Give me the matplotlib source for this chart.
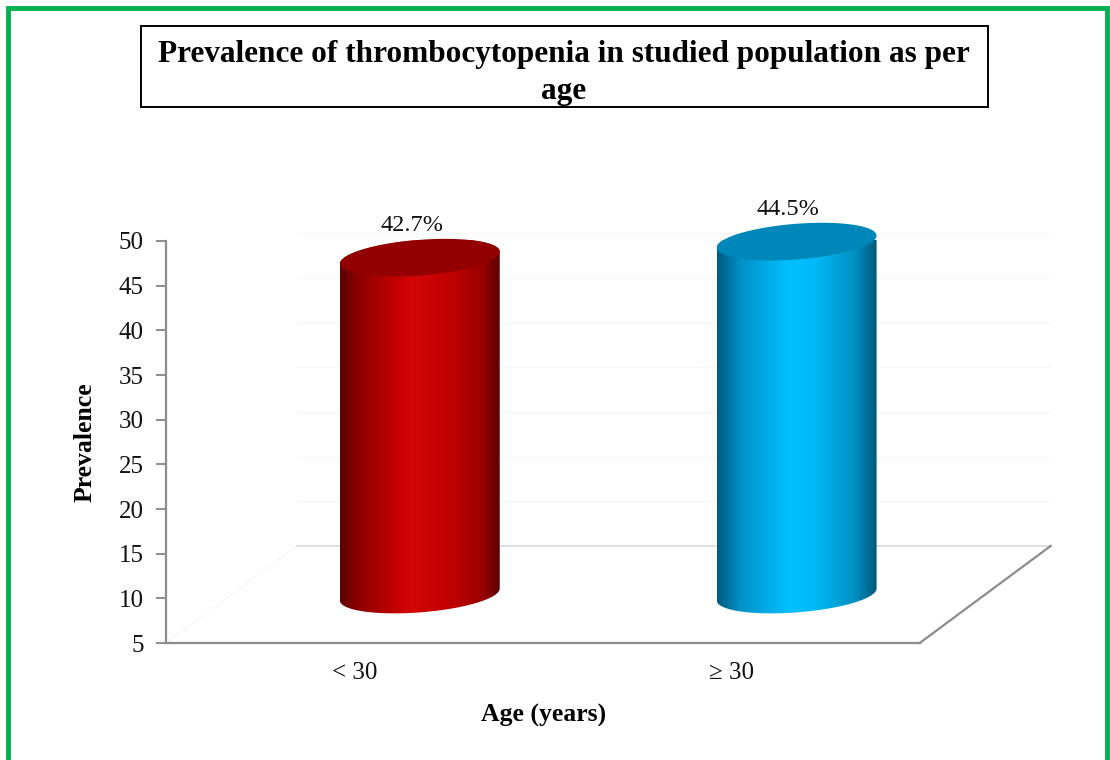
import matplotlib
matplotlib.use('Agg')
import matplotlib.pyplot as plt
import numpy as np
from matplotlib.patches import Polygon, Rectangle
from matplotlib.colors import LinearSegmentedColormap

categories = ['< 30', '\u2265 30']
prevalence = [42.7, 44.5]
value_labels = ['42.7%', '44.5%']
y_ticks = [5, 10, 15, 20, 25, 30, 35, 40, 45, 50]

plt.rcParams['font.family'] = ['Liberation Serif', 'DejaVu Serif']

red_cmap = LinearSegmentedColormap.from_list('red_cyl', [
    (0.0, '#5c0000'), (0.12, '#8e0000'), (0.35, '#c20000'), (0.45, '#d30505'),
    (0.7, '#bf0000'), (0.9, '#980000'), (1.0, '#5a0000')])
blue_cmap = LinearSegmentedColormap.from_list('blue_cyl', [
    (0.0, '#005a80'), (0.15, '#0092c8'), (0.45, '#00bfff'), (0.62, '#00b9f6'),
    (0.86, '#0090c2'), (1.0, '#00587a')])
cyl_cmaps = [red_cmap, blue_cmap]
top_colors = ['#930000', '#0087b9']
text_color = '#111111'

fig = plt.figure(figsize=(11.1, 7.6), dpi=100)
ax = fig.add_axes([0.1495, 0.1539, 0.679, 0.529])
x = np.arange(len(categories)) + 0.5
xmax = len(categories)
ymin, ymax = 5, 50

# 3d depth offsets in data units
dx, dy = 0.3475, 10.86
rx, ry, sk = 0.212, 2.0, 0.67

# floor and back wall
for v in y_ticks[1:8]:
    ax.plot([dx, xmax + dx], [v + dy, v + dy], color='#f6f6f6', lw=1, clip_on=False, zorder=0)
ax.plot([dx, xmax + dx], [ymin + dy, ymin + dy], color='#d9d9d9', lw=1.2, clip_on=False, zorder=1)
ax.plot([0, dx], [ymin, ymin + dy], color='#ececec', lw=1, ls=':', clip_on=False, zorder=1)
ax.plot([xmax, xmax + dx], [ymin, ymin + dy], color='#8c8c8c', lw=1.6, clip_on=False, zorder=1)

t = np.linspace(0, 2 * np.pi, 200)
for i in range(len(categories)):
    cx = x[i] + dx / 2
    base = ymin + dy / 2
    top = prevalence[i] + dy / 2
    tb = np.linspace(np.pi, 2 * np.pi, 100)
    tt = np.linspace(0, np.pi, 100)
    bx = cx + rx * np.cos(tb)
    by = base + ry * np.sin(tb) + sk * np.cos(tb)
    ux = cx + rx * np.cos(tt)
    uy = top + ry * np.sin(tt) + sk * np.cos(tt)
    body = Polygon(np.column_stack([np.r_[bx, ux], np.r_[by, uy]]), closed=True,
                   facecolor='none', edgecolor='none', transform=ax.transData)
    ax.add_patch(body)
    grad = np.linspace(0, 1, 256).reshape(1, -1)
    im = ax.imshow(grad, extent=[cx - rx, cx + rx, base - 4, top + 4], aspect='auto',
                   cmap=cyl_cmaps[i], zorder=3, interpolation='bicubic')
    im.set_clip_path(body)
    im.set_clip_box(None)
    ex = cx + rx * np.cos(t)
    ey = top + ry * np.sin(t) + sk * np.cos(t)
    ax.add_patch(Polygon(np.column_stack([ex, ey]), closed=True, facecolor=top_colors[i],
                         edgecolor='none', zorder=4, clip_on=False))
    ax.annotate(value_labels[i], (cx, top + np.hypot(ry, sk)), xytext=(-6, 2),
                textcoords='offset points', ha='center', va='bottom', fontsize=17.5,
                color=text_color, annotation_clip=False)

ax.set_xlim(0, xmax)
ax.set_ylim(ymin, ymax)
ax.set_xticks(x)
ax.set_xticklabels(categories, fontsize=18, color=text_color)
ax.set_yticks(y_ticks)
ax.set_yticklabels([str(v) for v in y_ticks], fontsize=18, color=text_color)
ax.tick_params(axis='x', length=0, pad=14)
ax.tick_params(axis='y', length=7, width=1.4, color='#8c8c8c', pad=9, direction='out')
for s in ['top', 'right']:
    ax.spines[s].set_visible(False)
for s in ['left', 'bottom']:
    ax.spines[s].set_color('#8c8c8c')
    ax.spines[s].set_linewidth(1.6)
ax.patch.set_visible(False)

ax.set_xlabel('Age (years)', fontsize=18.5, fontweight='bold')
ax.xaxis.set_label_coords(0.501, -0.152)
ax.set_ylabel('Prevalence', fontsize=18.5, fontweight='bold')
ax.yaxis.set_label_coords(-0.092, 0.5)

# title box
W, H = 1110, 760
fig.patches.append(Rectangle((141 / W, 1 - 107 / H), 847 / W, 81 / H, transform=fig.transFigure,
                             facecolor='white', edgecolor='black', lw=1.4, zorder=5))
fig.text(564 / W, 1 - 73 / H, 'Prevalence of thrombocytopenia in studied population as per\nage',
         ha='center', va='center', fontsize=22.5, fontweight='bold', linespacing=1.38, zorder=6)

# green outer frame
fig.patches.append(Rectangle((7.5 / W, -0.05), 1099 / W, 1.05 - 7.5 / H, transform=fig.transFigure,
                             facecolor='none', edgecolor='#00b050', lw=3.5, zorder=10))

fig.savefig('out.png', dpi=100)
